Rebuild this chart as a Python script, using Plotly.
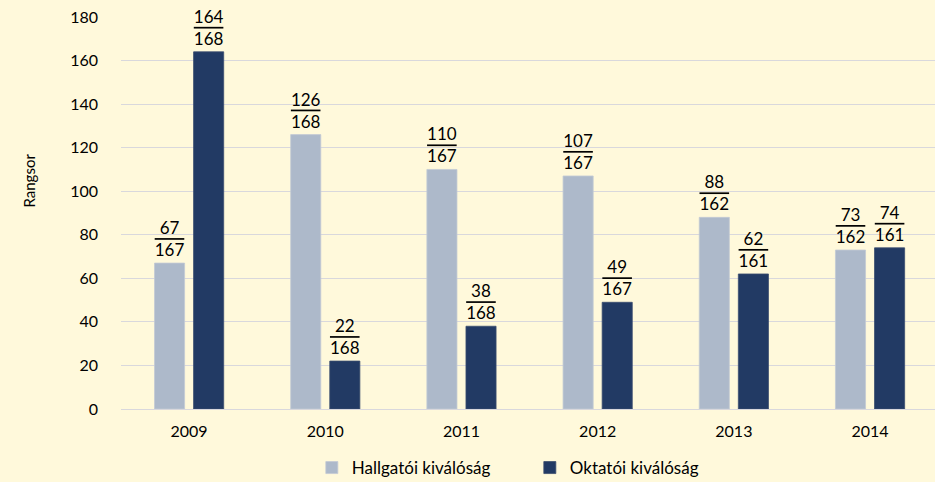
import plotly.graph_objects as go

years = ["2009", "2010", "2011", "2012", "2013", "2014"]
hallgatoi = [67, 126, 110, 107, 88, 73]
hallgatoi_total = [167, 168, 167, 167, 162, 162]
oktatoi = [164, 22, 38, 49, 62, 74]
oktatoi_total = [168, 168, 168, 167, 161, 161]
y_ticks = [0, 20, 40, 60, 80, 100, 120, 140, 160, 180]

FONT = "Lato"
BG = "#FFF9DB"

def frac_labels(nums, dens):
    return [
        f"{n}<br><span style='text-decoration:overline;text-decoration-thickness:2.5px'>{d}</span>"
        for n, d in zip(nums, dens)
    ]

fig = go.Figure()
fig.add_trace(go.Bar(
    name="Hallgatói kiválóság", x=years, y=hallgatoi,
    marker=dict(color="#ADB9CA", line=dict(color="#C3CAD4", width=0.8)),
    text=frac_labels(hallgatoi, hallgatoi_total), textposition="outside",
    textfont=dict(family=FONT, size=17, color="#000000"),
    constraintext="none", cliponaxis=False,
))
fig.add_trace(go.Bar(
    name="Oktatói kiválóság", x=years, y=oktatoi,
    marker=dict(color="#223A64", line=dict(color="#3A4C6E", width=0.8)),
    text=frac_labels(oktatoi, oktatoi_total), textposition="outside",
    textfont=dict(family=FONT, size=17, color="#000000"),
    constraintext="none", cliponaxis=False,
))

fig.update_layout(
    width=935, height=482,
    margin=dict(l=121, r=0, t=17, b=73, autoexpand=False),
    paper_bgcolor=BG, plot_bgcolor=BG,
    font=dict(family=FONT, size=16, color="#000000"),
    barmode="group", bargap=0.426, bargroupgap=0.23,
    showlegend=True,
    legend=dict(orientation="h", x=0.3335, xanchor="left", xref="container",
                y=0.029, yanchor="middle", yref="container",
                font=dict(family=FONT, size=17, color="#000000"),
                bgcolor="rgba(0,0,0,0)", entrywidth=173, traceorder="normal"),
    xaxis=dict(type="category", range=[-0.5, 5.477], showgrid=False, showline=False,
               automargin=False,
               ticks="outside", ticklen=8, tickcolor="rgba(0,0,0,0)",
               tickfont=dict(family=FONT, size=16, color="#000000")),
    yaxis=dict(range=[0, 180], tickvals=y_ticks, showgrid=True, gridcolor="#D9D8DC",
               gridwidth=1.2, zeroline=True, zerolinecolor="#D9D8DC", zerolinewidth=1.2,
               showline=False, ticklabelstandoff=22, automargin=False,
               tickfont=dict(family=FONT, size=16, color="#000000")),
    annotations=[dict(text="Rangsor", xref="paper", yref="paper", x=-0.126, y=0.584,
                      textangle=-90, showarrow=False,
                      font=dict(family=FONT, size=15, color="#000000"))],
)

fig.write_html(
    "out.html",
    config={"displayModeBar": False},
    post_script="document.body.style.margin='0';document.body.style.background='#FFF9DB';",
)
